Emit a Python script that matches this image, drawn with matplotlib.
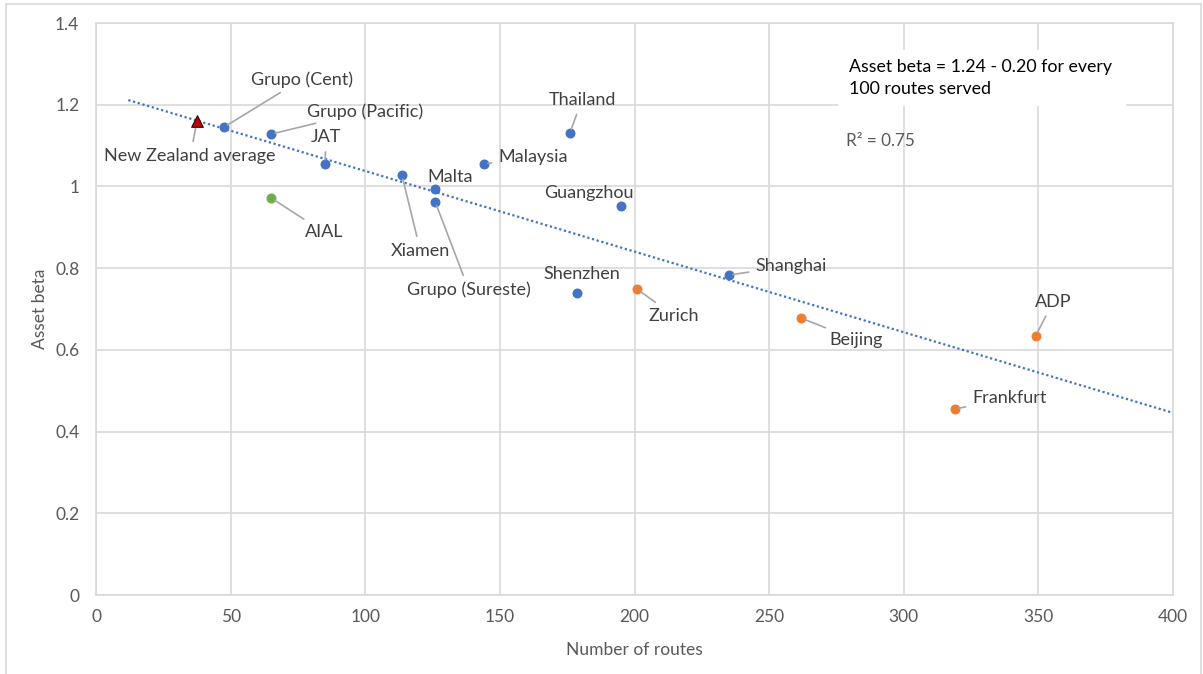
import numpy as np
import matplotlib
matplotlib.use('Agg')
import matplotlib.pyplot as plt
from matplotlib.patches import Rectangle

# comparator airports (blue = Asia/other, orange = Europe)
blue_names = ['Grupo (Cent)', 'Grupo (Pacific)', 'JAT', 'Xiamen', 'Malta',
              'Grupo (Sureste)', 'Malaysia', 'Thailand', 'Guangzhou',
              'Shenzhen', 'Shanghai']
blue_routes = [47.5, 65, 85, 113.6, 126, 126, 144, 176, 195, 178.6, 235]
blue_beta = [1.145, 1.128, 1.055, 1.028, 0.994, 0.962, 1.055, 1.131, 0.952,
             0.739, 0.783]

orange_names = ['Zurich', 'Beijing', 'ADP', 'Frankfurt']
orange_routes = [200.9, 261.8, 349, 319]
orange_beta = [0.749, 0.678, 0.634, 0.455]

aial_routes = [65]
aial_beta = [0.972]

nz_routes = [37.5]
nz_beta = [1.160]

# label anchors (data coords): name -> (x, y, ha, leader?)
labels = {
    'Grupo (Cent)': (57.5, 1.262, 'left', True),
    'Grupo (Pacific)': (78.5, 1.184, 'left', True),
    'JAT': (85.5, 1.121, 'center', True),
    'Xiamen': (120.5, 0.842, 'center', True),
    'Malta': (131.5, 1.024, 'center', False),
    'Grupo (Sureste)': (138.5, 0.746, 'center', True),
    'Malaysia': (149.5, 1.072, 'left', True),
    'Thailand': (180.5, 1.212, 'center', True),
    'Guangzhou': (183.0, 0.985, 'center', False),
    'Shenzhen': (180.5, 0.786, 'center', False),
    'Shanghai': (245.0, 0.806, 'left', True),
    'Zurich': (214.5, 0.684, 'center', True),
    'Beijing': (272.5, 0.624, 'left', True),
    'ADP': (355.5, 0.718, 'center', True),
    'Frankfurt': (325.5, 0.483, 'left', True),
    'AIAL': (77.5, 0.888, 'left', True),
    'New Zealand average': (35.0, 1.074, 'center', True),
}

trend_x = [12, 400]

plt.rcParams['font.family'] = ['Lato', 'DejaVu Sans']
grey = '#595959'
W, H = 1203, 674

fig = plt.figure(figsize=(12.03, 6.74), dpi=100)
ax = fig.add_axes([96 / W, 1 - 595 / H, (1173 - 96) / W, (595 - 23) / H])

# outer chart frame
fc = '#d9d9d9'
fig.add_artist(plt.Line2D([6 / W, 6 / W], [0, 1 - 4 / H], color=fc, lw=1.2))
fig.add_artist(plt.Line2D([6 / W, 1201 / W], [1 - 4 / H, 1 - 4 / H], color=fc, lw=1.2))
fig.add_artist(plt.Line2D([1201 / W, 1201 / W], [0, 1 - 4 / H], color=fc, lw=1.2))

ax.set_xlim(0, 400)
ax.set_ylim(0, 1.4)
ax.set_xticks(np.arange(0, 401, 50))
ax.set_yticks(np.arange(0, 1.41, 0.2))
ax.set_yticklabels(['0', '0.2', '0.4', '0.6', '0.8', '1', '1.2', '1.4'])
ax.grid(color=fc, lw=1.2)
ax.set_axisbelow(True)
for s in ax.spines.values():
    s.set_color(fc)
    s.set_linewidth(1.2)
ax.tick_params(length=0, labelsize=12.5, colors=grey, pad=12)
ax.tick_params(axis='x', pad=10)
ax.set_xlabel('Number of routes', fontsize=12.5, color=grey, labelpad=12)
ax.set_ylabel('Asset beta', fontsize=12.5, color=grey, labelpad=5)

# linear trendline through all plotted airports
fx = np.array(blue_routes + orange_routes + aial_routes + nz_routes)
fy = np.array(blue_beta + orange_beta + aial_beta + nz_beta)
slope, intercept = np.polyfit(fx, fy, 1)
tx = np.array(trend_x)
ax.plot(tx, intercept + slope * tx, color='#4472C4', ls=(0, (1, 1.2)), lw=1.6, zorder=2)

ax.scatter(blue_routes, blue_beta, s=38, color='#4472C4', zorder=3)
ax.scatter(orange_routes, orange_beta, s=38, color='#ED7D31', zorder=3)
ax.scatter(aial_routes, aial_beta, s=38, color='#70AD47', zorder=3)
ax.scatter(nz_routes, nz_beta, s=70, marker='^', color='#C00000',
           edgecolor='#3a0000', lw=0.8, zorder=4)

pts = dict(zip(blue_names, zip(blue_routes, blue_beta)))
pts.update(zip(orange_names, zip(orange_routes, orange_beta)))
pts['AIAL'] = (aial_routes[0], aial_beta[0])
pts['New Zealand average'] = (nz_routes[0], nz_beta[0])

for name, (lx, ly, ha, leader) in labels.items():
    px, py = pts[name]
    if leader:
        ax.annotate(name, xy=(px, py), xytext=(lx, ly), ha=ha, va='center',
                    fontsize=13, color='#404040',
                    arrowprops=dict(arrowstyle='-', color='#a6a6a6', lw=1.2,
                                    shrinkA=3, shrinkB=3))
    else:
        ax.text(lx, ly, name, ha=ha, va='center', fontsize=13, color='#404040')

# equation box
fig.add_artist(Rectangle((838 / W, 1 - 106 / H), 288 / W, 56 / H,
                         facecolor='white', edgecolor='none', zorder=5))
fig.text(849 / W, 1 - 67 / H, 'Asset beta = 1.24 - 0.20 for every',
         fontsize=12.8, color='black', va='center', ha='left', zorder=6)
fig.text(849 / W, 1 - 89 / H, '100 routes served',
         fontsize=12.8, color='black', va='center', ha='left', zorder=6)
fig.text(846 / W, 1 - 141 / H, 'R² = 0.75', fontsize=12.3, color=grey,
         va='center', ha='left')

fig.savefig('out.png', dpi=100)
